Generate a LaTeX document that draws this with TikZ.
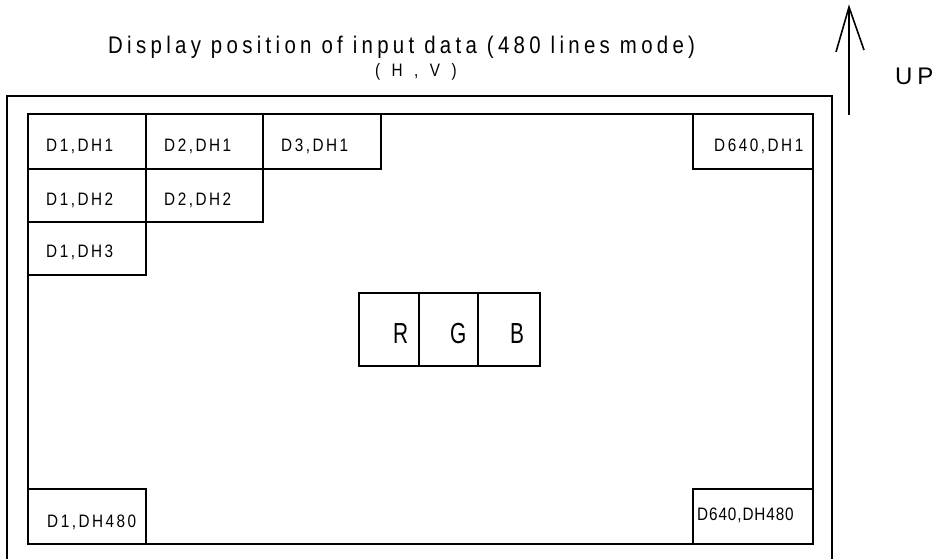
\documentclass[tikz,border=0pt]{standalone}
\usepackage{fontspec}
\setmainfont{Liberation Sans}
\newfontfamily\titlefont{Liberation Sans}[FakeStretch=0.85, LetterSpace=18]
\newfontfamily\hvfont{Liberation Sans}[FakeStretch=0.85, LetterSpace=40]
\newfontfamily\cellfont{Liberation Sans}[FakeStretch=0.85, LetterSpace=14]
\newfontfamily\tightfont{Liberation Sans}[FakeStretch=0.85, LetterSpace=5]
\newfontfamily\rgbfont{Liberation Sans}[FakeStretch=0.72]
\newfontfamily\upfont{Liberation Sans}[LetterSpace=20]
\begin{document}
\begin{tikzpicture}[x=1pt,y=-1pt,
  frame/.style={draw, line width=1.6pt},
  cell/.style={draw, line width=1.6pt, rectangle, inner sep=0pt, anchor=north west},
  ctext/.style={anchor=base west, inner sep=0pt, font=\cellfont\fontsize{18}{20}\selectfont},
  rgbtext/.style={anchor=base west, inner sep=0pt, font=\rgbfont\fontsize{29}{32}\selectfont},
]
\useasboundingbox (0,0) rectangle (942,559);
% outer frame
\draw[frame] (7,565) -- (7,96) -- (832,96) -- (832,565);
% inner frame
\node[cell, minimum width=785, minimum height=430] (screen) at (27,113) {};
% cells
\node[cell, minimum width=118, minimum height=55] (c11) at (27,113) {};
\node[cell, minimum width=117, minimum height=55] (c21) at (145,113) {};
\node[cell, minimum width=118, minimum height=55] (c31) at (262,113) {};
\node[cell, minimum width=118, minimum height=53] (c12) at (27,168) {};
\node[cell, minimum width=117, minimum height=53] (c22) at (145,168) {};
\node[cell, minimum width=118, minimum height=53] (c13) at (27,221) {};
\node[cell, minimum width=120, minimum height=55] (cN1) at (692,113) {};
\node[cell, minimum width=118, minimum height=55] (c1N) at (27,488) {};
\node[cell, minimum width=120, minimum height=55] (cNN) at (692,488) {};
% RGB
\node[cell, minimum width=60, minimum height=73] (r) at (358,292) {};
\node[cell, minimum width=59, minimum height=73] (g) at (418,292) {};
\node[cell, minimum width=62, minimum height=73] (b) at (477,292) {};
% texts
\node[ctext] (t11) at (46,151) {D1,DH1};
\node[ctext] (t21) at (164,151) {D2,DH1};
\node[ctext] (t31) at (281,151) {D3,DH1};
\node[ctext] (t12) at (46,205) {D1,DH2};
\node[ctext] (t22) at (164,205) {D2,DH2};
\node[ctext] (t13) at (46,257) {D1,DH3};
\node[ctext] (tN1) at (714,152) {D640,DH1};
\node[ctext] (t1N) at (47,527) {D1,DH480};
\node[anchor=base west, inner sep=0pt, font=\tightfont\fontsize{18}{20}\selectfont] (tNN) at (697,520) {D640,DH480};
\node[rgbtext] (tr) at (393,343) {R};
\node[rgbtext] (tg) at (450,343) {G};
\node[rgbtext] (tb) at (510,343) {B};
% title
\node[anchor=base west, inner sep=0pt, font=\titlefont\fontsize{24}{26}\selectfont] (title) at (108,54) {Display position of input data (480 lines mode)};
\node[anchor=base west, inner sep=0pt, font=\hvfont\fontsize{18}{20}\selectfont] (hv) at (375,77) {( H , V )};
% UP arrow
\coordinate (abot) at (849,115);
\coordinate (atop) at (849,7);
\draw[line width=1.6pt] (abot) -- (atop);
\draw[line width=1.6pt, line join=miter] (836,52) -- (atop) -- (864,50);
\node[anchor=base west, inner sep=0pt, font=\upfont\fontsize{24}{26}\selectfont] (up) at (895,85) {UP};
\end{tikzpicture}
\end{document}
